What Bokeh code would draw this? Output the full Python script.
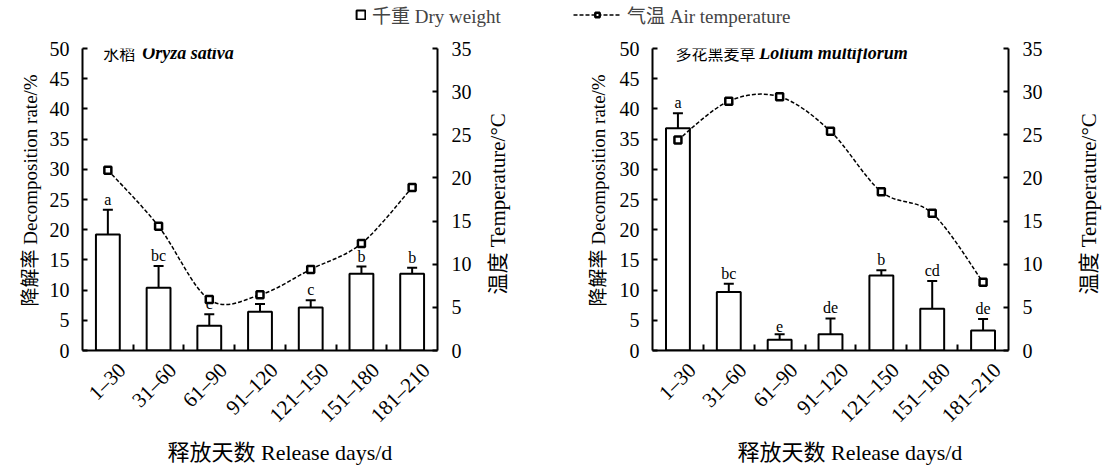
import math
from bokeh.plotting import figure
from bokeh.layouts import row, column
from bokeh.models import (Range1d, LinearAxis, FixedTicker, Whisker, TeeHead,
                          ColumnDataSource, Label, Legend, LegendItem)
from bokeh.core.properties import value
from bokeh.embed import file_html
from bokeh.resources import INLINE

categories = ["1–30", "31–60", "61–90", "91–120", "121–150", "151–180", "181–210"]

rice_rate = [19.2, 10.4, 4.1, 6.4, 7.1, 12.7, 12.7]
rice_err = [23.3, 14.0, 6.0, 7.7, 8.3, 13.9, 13.7]
rice_letters = ["a", "bc", "c", "c", "c", "b", "b"]
rice_temp = [20.9, 14.4, 5.9, 6.45, 9.4, 12.4, 18.9]

rye_rate = [36.8, 9.7, 1.8, 2.7, 12.4, 6.9, 3.3]
rye_err = [39.3, 11.05, 2.7, 5.3, 13.3, 11.5, 5.2]
rye_letters = ["a", "bc", "e", "de", "b", "cd", "de"]
rye_temp = [24.4, 28.9, 29.4, 25.4, 18.4, 15.9, 7.9]

left_ticks = list(range(0, 51, 5))
right_ticks = list(range(0, 36, 5))

x_title = "释放天数 Release days/d"
y_title = "降解率 Decomposition rate/%"
y2_title = "温度 Temperature/°C"

SERIF = "Liberation Serif"
MIX = "Liberation Serif, Noto Sans CJK SC"
CJK = "Noto Sans CJK SC"
FS = "20px"
DASH = "4 2"
TOP = 30         # legend strip height
PH = 408         # panel row height
BOT = 28         # x-title strip height
FRAME_TOP, FRAME_BOTTOM = 48, 350


def catmull(xs, ys):
    n = len(xs)
    out = dict(x0=[], y0=[], x1=[], y1=[], cx0=[], cy0=[], cx1=[], cy1=[])
    for i in range(n - 1):
        i0 = max(i - 1, 0)
        i3 = min(i + 2, n - 1)
        out["x0"].append(xs[i]); out["y0"].append(ys[i])
        out["x1"].append(xs[i + 1]); out["y1"].append(ys[i + 1])
        out["cx0"].append(xs[i] + (xs[i + 1] - xs[i0]) / 6)
        out["cy0"].append(ys[i] + (ys[i + 1] - ys[i0]) / 6)
        out["cx1"].append(xs[i + 1] - (xs[i3] - xs[i]) / 6)
        out["cy1"].append(ys[i + 1] - (ys[i3] - ys[i]) / 6)
    return out


def strip(w, h, y_range):
    f = figure(width=w, height=h, x_range=Range1d(0, w), y_range=y_range,
               output_backend="svg", toolbar_location=None, min_border=0,
               x_axis_type=None, y_axis_type=None)
    f.outline_line_color = None
    f.xgrid.visible = False
    f.ygrid.visible = False
    return f


def vtitle(w, cx, y_start, text, size):
    f = strip(w, PH, Range1d(FRAME_BOTTOM, FRAME_TOP))
    f.add_layout(Label(x=cx, y=y_start, text=text, angle=math.pi / 2,
                       text_font=MIX, text_font_size=size, text_align="left",
                       text_baseline="middle", text_color="black"))
    return f


def style_ticks(ax):
    ax.major_label_text_font = SERIF
    ax.major_label_text_font_size = FS
    ax.major_label_text_color = "black"
    ax.axis_line_width = 2


def panel(rate, err, letters, temp, cn_title, la_title, tx_cn, tx_la, bl, br, width):
    n = len(categories)
    xs = [i + 0.5 for i in range(n)]
    label_pos = [round(i + 0.78, 2) for i in range(n)]
    p = figure(width=width, height=PH, x_range=Range1d(0, n), y_range=Range1d(0, 50),
               output_backend="svg", toolbar_location=None,
               min_border_left=bl, min_border_right=br, min_border_top=FRAME_TOP - TOP,
               min_border_bottom=PH - (FRAME_BOTTOM - FRAME_TOP) - (FRAME_TOP - TOP))
    p.extra_y_ranges = {"temp": Range1d(0, 35)}
    p.xgrid.visible = False
    p.ygrid.visible = False
    p.outline_line_color = None

    src = ColumnDataSource(dict(x=xs, rate=rate, err=err, letters=letters, temp=temp))
    p.vbar(x="x", top="rate", width=0.47, source=src, fill_color="white",
           line_color="black", line_width=2)
    p.add_layout(Whisker(base="x", lower="rate", upper="err", source=src,
                         lower_head=None,
                         upper_head=TeeHead(size=10, line_width=2, line_color="black"),
                         line_width=2, line_color="black"))
    p.text(x="x", y="err", text="letters", source=src, text_align="center",
           text_baseline="bottom", y_offset=-2, text_font=value(SERIF),
           text_font_size="16px", text_color="black")
    bz = ColumnDataSource(catmull(xs, temp))
    p.bezier(x0="x0", y0="y0", x1="x1", y1="y1", cx0="cx0", cy0="cy0",
             cx1="cx1", cy1="cy1", source=bz, line_color="black", line_width=1.5,
             line_dash=DASH, y_range_name="temp")
    p.scatter(x="x", y="temp", source=src, marker="square", size=7,
              line_width=2.5, line_color="black", fill_color="white",
              y_range_name="temp")

    xa = p.xaxis[0]
    xa.ticker = FixedTicker(ticks=label_pos, minor_ticks=list(range(1, n)))
    xa.major_label_overrides = {x: c for x, c in zip(label_pos, categories)}
    xa.major_label_orientation = math.pi / 4
    xa.major_tick_in = 0
    xa.major_tick_out = 0
    xa.minor_tick_in = 6
    xa.minor_tick_out = 0
    xa.minor_tick_line_width = 2
    style_ticks(xa)
    xa.major_label_text_font_size = "21px"
    xa.major_label_standoff = 16

    ya = p.yaxis[0]
    ya.ticker = FixedTicker(ticks=left_ticks)
    ya.major_tick_in = 5
    ya.major_tick_out = 0
    ya.major_tick_line_width = 2
    ya.minor_tick_line_color = None
    style_ticks(ya)
    ya.major_label_standoff = 13

    ra = LinearAxis(y_range_name="temp", ticker=FixedTicker(ticks=right_ticks))
    ra.major_tick_in = 5
    ra.major_tick_out = 0
    ra.major_tick_line_width = 2
    ra.minor_tick_line_color = None
    style_ticks(ra)
    ra.major_label_standoff = 14
    p.add_layout(ra, "right")

    p.add_layout(Label(x=tx_cn, y=49.3, text=cn_title, text_font=CJK,
                       text_font_size="16px", text_baseline="middle",
                       text_color="black"))
    p.add_layout(Label(x=tx_la, y=49.3, text=la_title, text_font=SERIF,
                       text_font_size="18px", text_font_style="bold italic",
                       text_baseline="middle", text_color="black"))
    return p


# left block: title strip 45 | plot 435 (frame 82..437) | title strip 75
p1 = panel(rice_rate, rice_err, rice_letters, rice_temp, "水稻", "Oryza sativa",
           0.41, 1.18, 37, 43, 435)
yl1 = vtitle(45, 30, 306, y_title, "19px")
yr1 = vtitle(75, 497 - 480, 294, y2_title, "21px")
# right block: title strip 55 | plot 445 (frame 652..1008) | title strip 55
p2 = panel(rye_rate, rye_err, rye_letters, rye_temp, "多花黑麦草", "Lolium multiflorum",
           0.45, 2.1, 42, 47, 445)
yl2 = vtitle(55, 598 - 555, 306, y_title, "19px")
yr2 = vtitle(55, 1088 - 1055, 294, y2_title, "21px")

# legend strip on top (renderers hidden; they only supply the legend symbols)
lf = figure(width=1110, height=TOP, x_range=Range1d(0, 7), y_range=Range1d(0, 50),
            output_backend="svg", toolbar_location=None, min_border=0,
            x_axis_type=None, y_axis_type=None)
lf.outline_line_color = None
lf.xgrid.visible = False
lf.ygrid.visible = False
lsrc = ColumnDataSource(dict(x=[i + 0.5 for i in range(len(categories))],
                             rate=rice_rate, temp=rice_temp))
bar_r = lf.vbar(x="x", top="rate", width=0.47, source=lsrc, fill_color="white",
                line_color="black", line_width=2, visible=False)
line_r = lf.line(x="x", y="temp", source=lsrc, line_color="black", line_width=1.5,
                 line_dash=DASH, visible=False)
mk_r = lf.scatter(x="x", y="temp", source=lsrc, marker="square", size=7, line_width=2.5,
                  line_color="black", fill_color="white", visible=False)

common = dict(orientation="horizontal", border_line_color=None,
              background_fill_alpha=0, padding=0, margin=0,
              label_text_font=MIX, label_text_font_size="19px", label_standoff=6,
              glyph_height=11, spacing=0, label_height=20)
lg1 = Legend(items=[LegendItem(label="千重 Dry weight", renderers=[bar_r])],
             location=(355, 2), glyph_width=11, **common)
lg2 = Legend(items=[LegendItem(label="气温 Air temperature", renderers=[line_r, mk_r])],
             location=(573, 2), glyph_width=48, **common)
lf.add_layout(lg1)
lf.add_layout(lg2)

# x-axis title strip at the bottom
bf = strip(1110, BOT, Range1d(0, BOT))
for x0 in (167, 737):
    bf.add_layout(Label(x=x0, y=14, text=x_title, text_font=MIX, text_font_size="22px",
                        text_align="left", text_baseline="middle", text_color="black"))

layout = column(lf, row(yl1, p1, yr1, yl2, p2, yr2), bf)
open("out.html", "w").write(file_html(layout, INLINE))
